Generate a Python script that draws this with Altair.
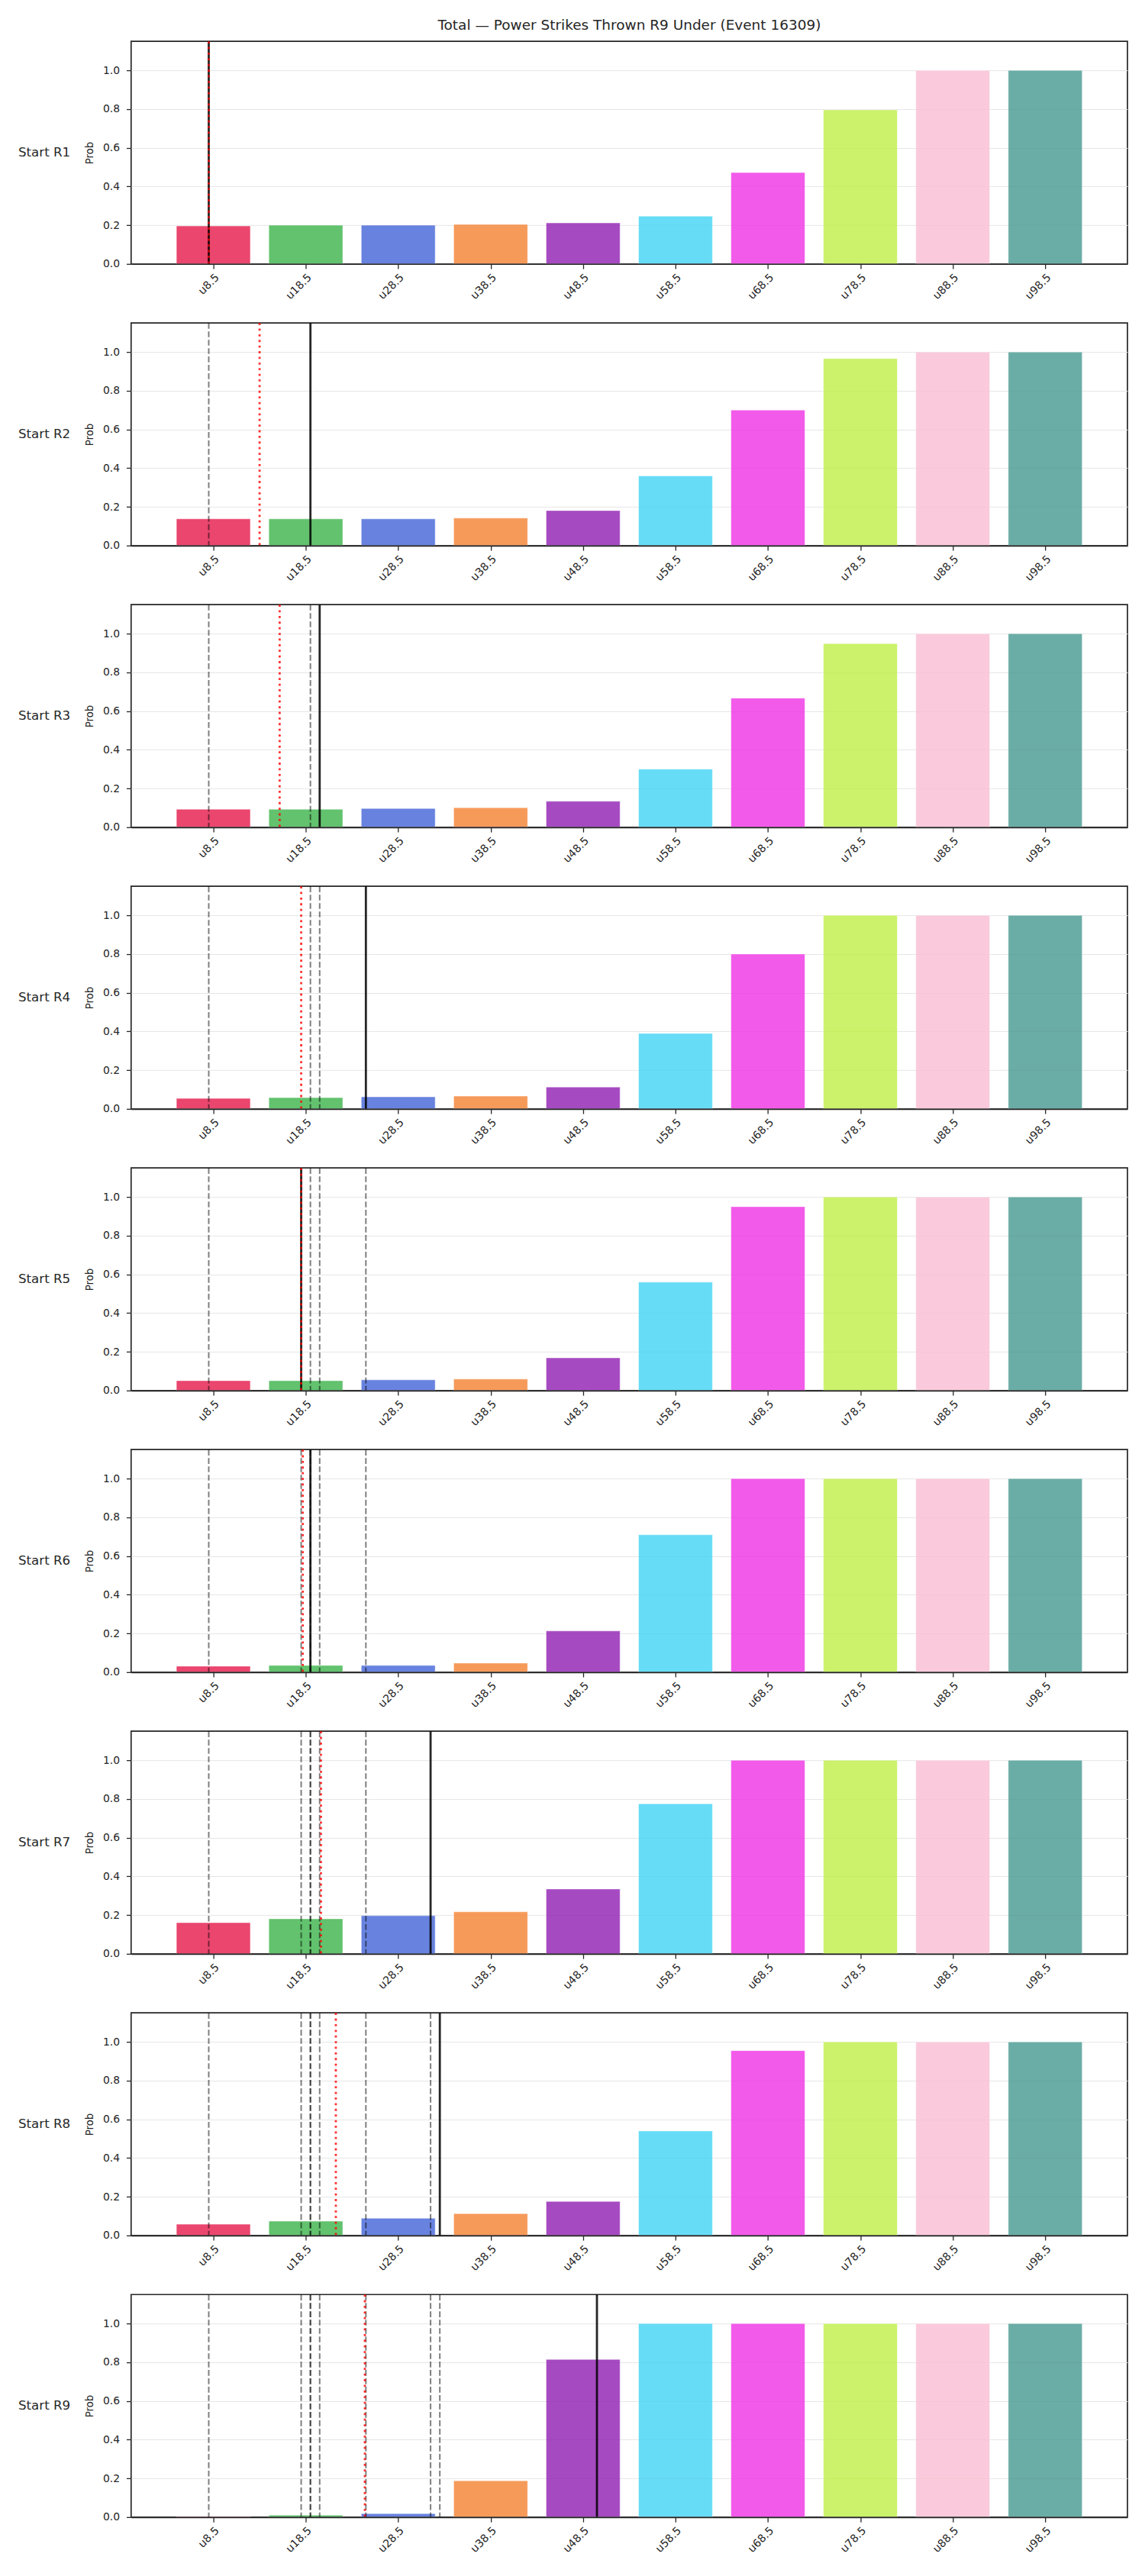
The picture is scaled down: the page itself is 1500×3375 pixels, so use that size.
import altair as alt
import pandas as pd

# ---- data ----
LINES = [8.5, 18.5, 28.5, 38.5, 48.5, 58.5, 68.5, 78.5, 88.5, 98.5]
LABELS = ["u8.5", "u18.5", "u28.5", "u38.5", "u48.5", "u58.5", "u68.5", "u78.5", "u88.5", "u98.5"]
COLORS = ["#e6194b", "#3cb44b", "#4363d8", "#f58231", "#911eb4",
          "#42d4f4", "#f032e6", "#bfef45", "#fabed4", "#469990"]

ROUNDS = ["Start R1", "Start R2", "Start R3", "Start R4", "Start R5",
          "Start R6", "Start R7", "Start R8", "Start R9"]

PROB_R1 = [0.196, 0.200, 0.200, 0.204, 0.212, 0.247, 0.472, 0.796, 1.0, 1.0]
PROB_R2 = [0.138, 0.138, 0.138, 0.142, 0.181, 0.360, 0.700, 0.966, 1.0, 1.0]
PROB_R3 = [0.093, 0.093, 0.097, 0.101, 0.134, 0.300, 0.667, 0.949, 1.0, 1.0]
PROB_R4 = [0.054, 0.058, 0.062, 0.066, 0.113, 0.390, 0.800, 1.0, 1.0, 1.0]
PROB_R5 = [0.051, 0.051, 0.055, 0.059, 0.169, 0.560, 0.950, 1.0, 1.0, 1.0]
PROB_R6 = [0.031, 0.035, 0.035, 0.047, 0.213, 0.710, 1.0, 1.0, 1.0, 1.0]
PROB_R7 = [0.161, 0.181, 0.197, 0.217, 0.335, 0.775, 1.0, 1.0, 1.0, 1.0]
PROB_R8 = [0.058, 0.074, 0.089, 0.113, 0.176, 0.540, 0.955, 1.0, 1.0, 1.0]
PROB_R9 = [0.003, 0.010, 0.018, 0.188, 0.815, 1.0, 1.0, 1.0, 1.0, 1.0]
PROBS = [PROB_R1, PROB_R2, PROB_R3, PROB_R4, PROB_R5, PROB_R6, PROB_R7, PROB_R8, PROB_R9]

# solid black line per panel (earlier ones come back as grey dashed lines)
THROWN = [8, 19, 20, 25, 18, 19, 32, 33, 50]
# red dotted line per panel
RED = [8, 13.5, 15.67, 18, 18, 18.17, 20.14, 21.75, 24.89]

TITLE = "Total \u2014 Power Strikes Thrown R9 Under (Event 16309)"

INK = "#262626"
W, H = 1307, 292
xscale = alt.Scale(domain=[-0.4, 107.4], nice=False, zero=False)
yscale = alt.Scale(domain=[0, 1.15], nice=False, zero=True)

xaxis = alt.Axis(values=LINES, labelExpr="'u' + datum.value", labelAngle=-45,
                 labelAlign="right", labelBaseline="top", labelPadding=4,
                 labelFontSize=14.2, labelColor=INK, tickSize=6.3, tickWidth=1.3,
                 tickColor=INK, domain=True, domainColor=INK, domainWidth=1.7,
                 grid=False, zindex=1, title=None)
yaxis = alt.Axis(values=[0, 0.2, 0.4, 0.6, 0.8, 1.0], format=".1f",
                 labelFontSize=13.9, labelColor=INK, labelPadding=9,
                 tickSize=6.3, tickWidth=1.3, tickColor=INK, domain=False,
                 grid=True, gridColor="#e6e6e6", gridWidth=1,
                 title="Prob", titleFontSize=13.3, titleFontWeight="normal",
                 titleColor=INK, titlePadding=10)


def panel(k):
    bars_df = pd.DataFrame({"line": LINES, "label": LABELS, "prob": PROBS[k]})
    bars = alt.Chart(bars_df).transform_calculate(
        lo="datum.line - 4", hi="datum.line + 4"
    ).mark_bar(opacity=0.8, stroke="white", strokeWidth=0.5).encode(
        x=alt.X("lo:Q", scale=xscale, axis=xaxis),
        x2="hi:Q",
        y=alt.Y("prob:Q", scale=yscale, axis=yaxis),
        y2=alt.datum(0),
        color=alt.Color("label:N", scale=alt.Scale(domain=LABELS, range=COLORS), legend=None),
    )
    layers = [bars]
    if k > 0:
        grey_df = pd.DataFrame({"v": THROWN[:k]})
        layers.append(
            alt.Chart(grey_df).mark_rule(color="black", opacity=0.5, strokeWidth=2,
                                         strokeDash=[7.7, 3.3]).encode(
                x=alt.X("v:Q", scale=xscale, axis=xaxis))
        )
    layers.append(
        alt.Chart(pd.DataFrame({"v": [THROWN[k]]})).mark_rule(
            color="black", opacity=0.85, strokeWidth=2.8).encode(
            x=alt.X("v:Q", scale=xscale, axis=xaxis))
    )
    layers.append(
        alt.Chart(pd.DataFrame({"v": [RED[k]]})).mark_rule(
            color="red", opacity=0.8, strokeWidth=2.8, strokeDash=[2.8, 4.6]).encode(
            x=alt.X("v:Q", scale=xscale, axis=xaxis))
    )
    layers.append(
        alt.Chart(pd.DataFrame({"t": [ROUNDS[k]]})).mark_text(
            align="left", baseline="middle", fontSize=16.7, color=INK).encode(
            x=alt.value(-148), y=alt.value(H / 2), text="t:N")
    )
    ch = alt.layer(*layers).properties(width=W, height=H)
    if k == 0:
        ch = ch.properties(title=alt.Title(TITLE, fontSize=18.5, fontWeight="normal",
                                           color=INK, anchor="middle", frame="group",
                                           offset=10))
    return ch


chart = alt.vconcat(*[panel(k) for k in range(9)], spacing=77.5, bounds="flush").properties(
    padding={"left": 23, "top": 21, "right": 22, "bottom": 5}
).configure(font="DejaVu Sans").configure_view(stroke=INK, strokeWidth=1.7)

chart.save("out.html", embed_options={"renderer": "svg", "actions": False})
